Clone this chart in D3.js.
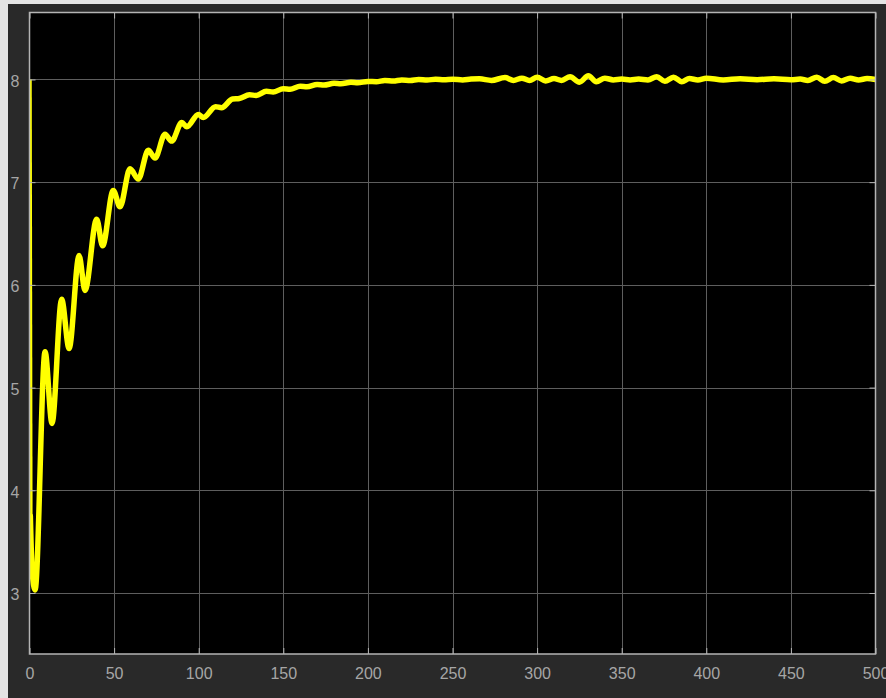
<!DOCTYPE html>
<html>
<head>
<meta charset="utf-8">
<script src="https://cdn.jsdelivr.net/npm/d3@7"></script>
<style>
  html, body { margin: 0; padding: 0; background: #e4e4e4; }
  svg { display: block; }
</style>
</head>
<body>
<svg id="chart" width="886" height="698"></svg>
<script>
// ---- data ----
const xTicks = [0, 50, 100, 150, 200, 250, 300, 350, 400, 450, 500];
const yTicks = [3, 4, 5, 6, 7, 8];
const xDomain = [0, 500];
const yDomain = [2.406, 8.652];

const times = [0, 0.5, 1.6, 3.3, 9.2, 13.3, 19.0, 23.4, 29.3, 32.8, 39.7, 43.2, 49.5, 53.5,
  59.4, 64.3, 70.2, 74.2, 80.1, 84, 90, 93, 99.8, 102.7, 110, 113.5, 120, 124, 130, 134,
  140, 144, 150, 154, 160, 164, 170, 174, 180, 184, 190, 194, 200, 205, 210, 215, 220, 225,
  230, 235, 240, 245, 250, 256, 261, 266, 273, 281, 286, 291, 295.5, 300, 305, 310, 314.5,
  319.5, 325, 330.3, 335, 340, 345, 350, 355, 360, 365.5, 370.7, 375.5, 380.6, 385.5, 390,
  395, 400, 410, 420, 430, 440, 450, 455.5, 460, 465.3, 470, 475.1, 480, 485, 490, 495, 500];
const values = [8, 3.75, 3.2, 3.03, 5.35, 4.65, 5.86, 5.38, 6.285, 5.945, 6.64, 6.38, 6.92, 6.76,
  7.13, 7.03, 7.31, 7.235, 7.467, 7.40, 7.58, 7.54, 7.66, 7.63, 7.735, 7.725, 7.81, 7.815, 7.85, 7.845,
  7.885, 7.878, 7.91, 7.905, 7.935, 7.93, 7.952, 7.945, 7.962, 7.958, 7.972, 7.968, 7.98, 7.978, 7.99, 7.984, 7.995, 7.991,
  8.0, 7.995, 8.002, 7.997, 8.003, 7.996, 8.004, 8.006, 7.991, 8.018, 7.991, 8.013, 7.991, 8.022, 7.986, 8.009, 7.991,
  8.027, 7.973, 8.036, 7.978, 8.013, 7.996, 8.004, 7.996, 8.004, 7.996, 8.027, 7.982, 8.022, 7.978, 8.009,
  7.996, 8.013, 7.996, 8.007, 7.998, 8.006, 7.997, 8.004, 7.991, 8.022, 7.982, 8.018, 7.986, 8.013, 7.996, 8.009, 8.0];

// ---- layout ----
const svg = d3.select("#chart");
const plot = { left: 29.5, right: 875.5, top: 12.5, bottom: 654 };

svg.append("rect").attr("x", 8).attr("y", 4).attr("width", 878).attr("height", 694).attr("fill", "#292929");

const x = d3.scaleLinear().domain(xDomain).range([plot.left, plot.right]);
const y = d3.scaleLinear().domain(yDomain).range([plot.bottom, plot.top]);

svg.append("rect")
  .attr("x", plot.left).attr("y", plot.top)
  .attr("width", plot.right - plot.left).attr("height", plot.bottom - plot.top)
  .attr("fill", "#000");

// grid
const grid = svg.append("g");
grid.selectAll("line.gx").data(xTicks.filter(d => d > xDomain[0] && d < xDomain[1])).join("line")
  .attr("x1", d => Math.round(x(d)) + 0.5).attr("x2", d => Math.round(x(d)) + 0.5)
  .attr("y1", plot.top).attr("y2", plot.bottom)
  .attr("stroke", "#5e5e5e").attr("stroke-width", 1);
grid.selectAll("line.gy").data(yTicks).join("line")
  .attr("y1", d => Math.round(y(d)) + 0.5).attr("y2", d => Math.round(y(d)) + 0.5)
  .attr("x1", plot.left).attr("x2", plot.right)
  .attr("stroke", "#5e5e5e").attr("stroke-width", 1);

// curve
const clipId = "plotclip";
svg.append("clipPath").attr("id", clipId).append("rect")
  .attr("x", plot.left).attr("y", plot.top)
  .attr("width", plot.right - plot.left).attr("height", plot.bottom - plot.top);

const pts = times.map((t, i) => [t, values[i]]);
const line = d3.line().x(d => x(d[0])).y(d => y(d[1])).curve(d3.curveMonotoneX);

const cg = svg.append("g").attr("clip-path", `url(#${clipId})`);
// initial step drop (thin)
cg.append("path").datum(pts.slice(0, 2))
  .attr("d", d3.line().x(d => x(d[0]) + 1).y(d => y(d[1])))
  .attr("fill", "none").attr("stroke", "#ffff00").attr("stroke-width", 2.5);
// main response (thick)
cg.append("path").datum(pts.slice(1))
  .attr("d", line)
  .attr("fill", "none").attr("stroke", "#ffff00").attr("stroke-width", 5.5)
  .attr("stroke-linejoin", "round").attr("stroke-linecap", "round");

// axes (ticks inward, box)
const axisColor = "#b4b4b4";
const tl = 6;
const fmt = d3.format("d");
const bottomAxis = d3.axisBottom(x).tickValues(xTicks).tickFormat(fmt).tickSize(-tl).tickPadding(14);
const leftAxis = d3.axisLeft(y).tickValues(yTicks).tickFormat(fmt).tickSize(-tl).tickPadding(10);
const topAxis = d3.axisTop(x).tickValues(xTicks).tickSize(-tl).tickFormat("");
const rightAxis = d3.axisRight(y).tickValues(yTicks).tickSize(-tl).tickFormat("");

function style(g) {
  g.select(".domain").remove();
  g.selectAll(".tick line").attr("stroke", axisColor).attr("stroke-width", 1);
  g.selectAll(".tick text").attr("fill", "#a6a6a6")
    .style("font-family", "'Liberation Sans', Arial, sans-serif").style("font-size", "16px");
}
svg.append("g").attr("transform", `translate(0,${plot.bottom})`).call(bottomAxis).call(style);
svg.append("g").attr("transform", `translate(${plot.left},0)`).call(leftAxis).call(style)
  .selectAll(".tick text").attr("dy", "0.42em");
svg.append("g").attr("transform", `translate(0,${plot.top})`).call(topAxis).call(style);
svg.append("g").attr("transform", `translate(${plot.right},0)`).call(rightAxis).call(style);

svg.append("rect")
  .attr("x", plot.left).attr("y", plot.top)
  .attr("width", plot.right - plot.left).attr("height", plot.bottom - plot.top)
  .attr("fill", "none").attr("stroke", axisColor).attr("stroke-width", 1.5);
</script>
</body>
</html>
